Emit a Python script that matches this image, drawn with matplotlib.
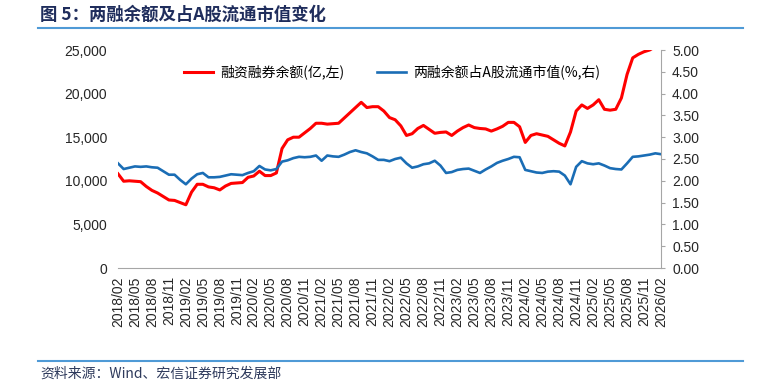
import numpy as np
import pandas as pd
import matplotlib
matplotlib.use('Agg')
import matplotlib.pyplot as plt

# monthly readings, 2018/02 .. 2026/02
months = pd.date_range('2018-02-01', '2026-02-01', freq='MS')

# 融资融券余额 (亿元, left axis)
margin_balance = [
    10800, 9950, 10000, 9950, 9900, 9350, 8900, 8600, 8200, 7800,
    7750, 7500, 7250, 8700, 9600, 9600, 9300, 9200, 8950, 9400,
    9700, 9750, 9800, 10400, 10550, 11100, 10600, 10600, 10900, 13700,
    14700, 15000, 15000, 15500, 16000, 16600, 16600, 16500, 16550, 16600,
    17200, 17800, 18400, 19000, 18400, 18500, 18500, 18000, 17250, 17000,
    16300, 15200, 15400, 16000, 16350, 15900, 15450, 15550, 15600, 15200,
    15700, 16100, 16400, 16100, 16000, 15950, 15700, 15950, 16250, 16700,
    16700, 16200, 14400, 15200, 15400, 15250, 15100, 14700, 14300, 14000,
    15600, 18000, 18700, 18300, 18700, 19300, 18200, 18100, 18200, 19500,
    22200, 24100, 24500, 24800, 25000, 25400, 25700,
]

# 两融余额占A股流通市值 (%, right axis)
margin_ratio = [
    2.40, 2.27, 2.30, 2.33, 2.32, 2.33, 2.31, 2.30, 2.22, 2.14,
    2.14, 2.02, 1.92, 2.05, 2.15, 2.18, 2.08, 2.08, 2.09, 2.12,
    2.15, 2.14, 2.13, 2.18, 2.22, 2.34, 2.26, 2.24, 2.27, 2.44,
    2.47, 2.52, 2.55, 2.54, 2.55, 2.58, 2.46, 2.58, 2.56, 2.55,
    2.60, 2.66, 2.70, 2.66, 2.63, 2.56, 2.48, 2.48, 2.45, 2.50,
    2.53, 2.40, 2.30, 2.33, 2.38, 2.40, 2.46, 2.35, 2.18, 2.20,
    2.25, 2.27, 2.28, 2.23, 2.18, 2.26, 2.33, 2.41, 2.46, 2.50,
    2.55, 2.54, 2.25, 2.22, 2.19, 2.18, 2.21, 2.22, 2.21, 2.12,
    1.92, 2.32, 2.45, 2.40, 2.38, 2.40, 2.35, 2.29, 2.27, 2.26,
    2.40, 2.55, 2.56, 2.58, 2.60, 2.63, 2.61,
]

x = np.arange(len(months))
tick_pos = x[::3]
tick_labels = months[::3].strftime('%Y/%m')

cjk = ['Noto Sans CJK SC', 'DejaVu Sans']
num_font = 'Liberation Sans'
grey = '#a6a6a6'
text_col = '#262626'

fig = plt.figure(figsize=(7.72, 3.81), dpi=100)
ax = fig.add_axes([118 / 772, 1 - 268 / 381, (661 - 118) / 772, (268 - 50) / 381])
ax2 = ax.twinx()

l1, = ax.plot(x, margin_balance, color='#ff0000', lw=2.2, label='融资融券余额(亿,左)')
l2, = ax2.plot(x, margin_ratio, color='#1a6db5', lw=1.9, label='两融余额占A股流通市值(%,右)')

ax.set_xlim(0, 96)
ax.set_ylim(0, 25000)
ax2.set_ylim(0, 5)
ax.set_yticks(np.arange(0, 25001, 5000))
ax.set_yticklabels([f'{v:,}' for v in range(0, 25001, 5000)])
ax2.set_yticks(np.arange(0, 5.01, 0.5))
ax2.set_yticklabels([f'{v:.2f}' for v in np.arange(0, 5.01, 0.5)])
ax.set_xticks(tick_pos)
ax.set_xticklabels(tick_labels, rotation=90)

for s in ['top', 'left', 'right']:
    ax.spines[s].set_visible(False)
    ax2.spines[s].set_visible(s == 'right')
ax2.spines['bottom'].set_visible(False)
ax.spines['bottom'].set_color(grey)
ax2.spines['right'].set_color(grey)

ax.tick_params(axis='y', length=0, pad=8, labelsize=10, labelcolor=text_col)
ax.tick_params(axis='x', length=0, pad=6, labelsize=10, labelcolor=text_col)
ax2.tick_params(axis='y', length=3, color=grey, pad=5, labelsize=10, labelcolor=text_col)
for lab in ax.get_xticklabels() + ax.get_yticklabels() + ax2.get_yticklabels():
    lab.set_fontfamily(num_font)

ax2.legend(handles=[l1, l2], loc='upper center', bbox_to_anchor=(0.505, 0.99),
           ncol=2, frameon=False, handlelength=2.1, columnspacing=2.3,
           handletextpad=0.55, prop={'family': cjk, 'size': 10})

# title and rules
fig.text(40 / 772, 1 - 15 / 381, '图 5：两融余额及占A股流通市值变化', family=cjk,
         fontsize=12.5, fontweight='bold', color='#1f2d5c', va='center', ha='left')
fig.add_artist(plt.Line2D([38 / 772, 743 / 772], [1 - 28 / 381] * 2, color='#4f9ad6', lw=1.5))
fig.add_artist(plt.Line2D([38 / 772, 743 / 772], [1 - 360.5 / 381] * 2, color='#4f9ad6', lw=1.5))
fig.text(40 / 772, 1 - 374 / 381, '资料来源：Wind、宏信证券研究发展部', family=cjk,
         fontsize=10, color='#2e3a5c', va='center', ha='left')

fig.savefig('out.png', dpi=100)
